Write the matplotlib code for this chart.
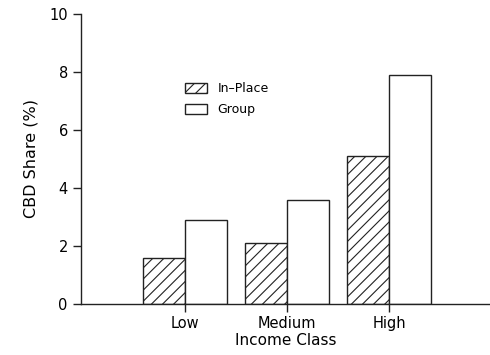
import matplotlib
matplotlib.use("Agg")
import matplotlib.pyplot as plt
import numpy as np

categories = ["Low", "Medium", "High"]
in_place = [1.6, 2.1, 5.1]
group = [2.9, 3.6, 7.9]
yticks = [0, 2, 4, 6, 8, 10]

plt.rcParams['font.family'] = ['DejaVu Sans']
plt.rcParams['hatch.linewidth'] = 0.8

fig = plt.figure(figsize=(4.9, 3.55), dpi=100)
ax = fig.add_axes([0.1653, 0.1437, 0.8347, 0.8169])

x = np.arange(len(categories))
w = 0.41
ax.bar(x, in_place, width=-w, align='edge', facecolor='white', edgecolor='#222222',
       hatch='///', linewidth=1.0, label='In\u2013Place')
ax.bar(x, group, width=w, align='edge', facecolor='white', edgecolor='#222222',
       linewidth=1.0, label='Group')

ax.set_xlim(-1.02, 2.99)
ax.set_ylim(0, 10)
ax.set_yticks(yticks)
ax.set_xticks(x)
ax.set_xticklabels(categories, fontsize=10.5)
ax.tick_params(axis='y', labelsize=10.5, direction='out', length=6, width=1, color='#222222')
ax.tick_params(axis='x', direction='out', length=6, width=1, color='#222222', pad=3)
for s in ['top', 'right']:
    ax.spines[s].set_visible(False)
for s in ['left', 'bottom']:
    ax.spines[s].set_linewidth(1.0)
    ax.spines[s].set_color('#222222')

ax.set_ylabel('CBD Share (%)', fontsize=11.5, labelpad=8)
ax.set_xlabel('Income Class', fontsize=11, labelpad=1)

ax.legend(loc='upper left', bbox_to_anchor=(0.254, 0.765), frameon=False,
          fontsize=9, handlelength=1.8, handleheight=0.8, handletextpad=0.8,
          labelspacing=0.65, borderpad=0, borderaxespad=0)

fig.savefig('out.png', dpi=100)
